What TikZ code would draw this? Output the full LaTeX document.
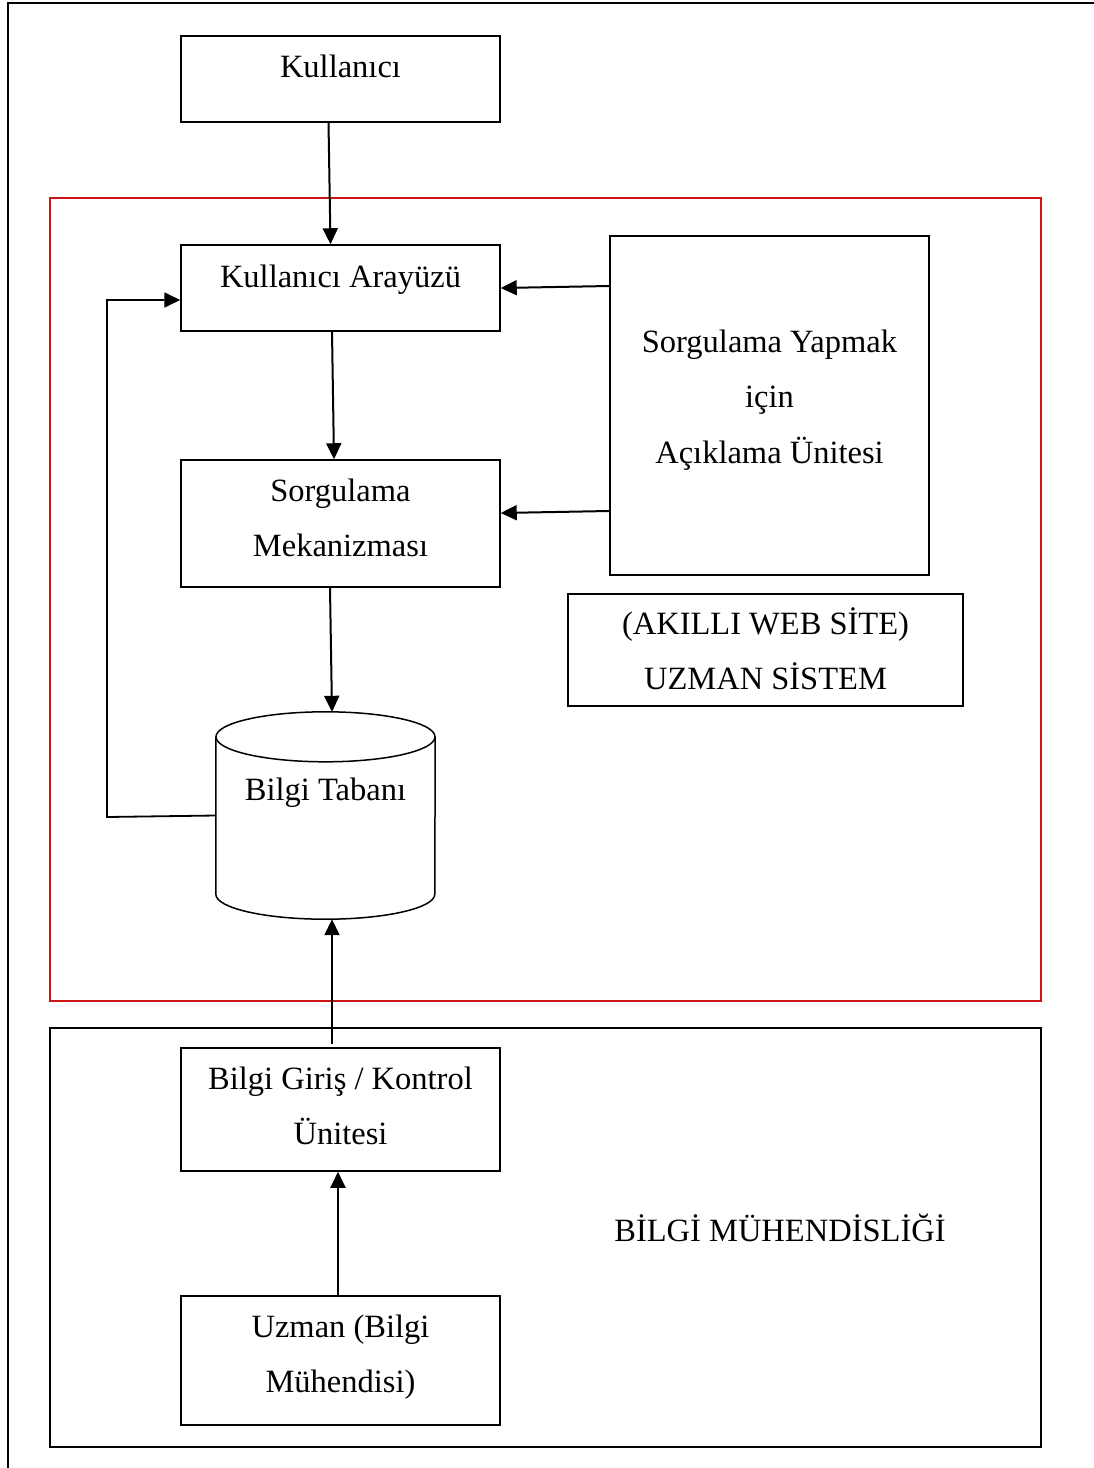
\documentclass[tikz,border=0pt]{standalone}
\usepackage{fontspec}
\setmainfont{Liberation Serif}
\usetikzlibrary{arrows.meta,calc}
\definecolor{framered}{RGB}{204,20,20}
\begin{document}
\begin{tikzpicture}[x=1pt,y=-1pt,
  box/.style={draw=black,line width=1.5pt,inner sep=0pt,minimum width=#1},
  box/.default={319pt},
  lbl/.style={anchor=base,inner sep=0pt,font=\fontsize{32.5}{36}\selectfont},
  arr/.style={line width=2pt,-{Triangle[length=16pt,width=15pt]}},
  ln/.style={line width=1.6pt}]
\useasboundingbox (0,0) rectangle (1094,1468);
% outer frame
\draw[line width=1.8pt] (8,1468) -- (8,3) -- (1094,3);
% group frames
\node[draw=framered,line width=1.4pt,minimum width=991pt,minimum height=803pt,inner sep=0pt] (red) at (545.5,599.5) {};
\node[draw=black,line width=1.6pt,minimum width=991pt,minimum height=419pt,inner sep=0pt] (bm) at (545.5,1237.5) {};
% boxes
\node[box,minimum height=86pt] (kul) at (340.5,79) {};
\node[box,minimum height=86pt] (ara) at (340.5,288) {};
\node[box,minimum height=339pt] (soy) at (769.5,405.5) {};
\node[box,minimum height=127pt] (mek) at (340.5,523.5) {};
\node[box=395pt,minimum height=112pt] (aki) at (765.5,650) {};
\node[inner sep=0pt,minimum width=219pt,minimum height=207pt] (kb) at (325.5,815.5) {};
\node[box,minimum height=123pt] (gir) at (340.5,1109.5) {};
\node[box,minimum height=129pt] (uzm) at (340.5,1360.5) {};
% cylinder
\draw[line width=1.5pt] ([yshift=-25pt]kb.north west) -- ([yshift=25pt]kb.south west)
  arc[start angle=180,end angle=360,x radius=109.5pt,y radius=25pt] -- ([yshift=-25pt]kb.north east);
\draw[line width=1.5pt] ([yshift=-25pt]kb.north) ellipse [x radius=109.5pt,y radius=25pt];
% texts
\node[lbl] (t1) at (340.5,77) {Kullanıcı};
\node[lbl] (t2) at (340.5,287) {Kullanıcı Arayüzü};
\node[lbl] (t3) at (769.5,352) {Sorgulama Yapmak};
\node[lbl] (t4) at (769.5,407) {için};
\node[lbl] (t5) at (769.5,463) {Açıklama Ünitesi};
\node[lbl] (t6) at (340.5,501) {Sorgulama};
\node[lbl] (t7) at (340.5,556) {Mekanizması};
\node[lbl] (t8) at (765.5,634) {(AKILLI WEB SİTE)};
\node[lbl] (t9) at (765.5,689) {UZMAN SİSTEM};
\node[lbl] (t10) at (325.5,800) {Bilgi Tabanı};
\node[lbl] (t11) at (340.5,1089) {Bilgi Giriş / Kontrol};
\node[lbl] (t12) at (340.5,1144) {Ünitesi};
\node[lbl] (t13) at (780,1241) {BİLGİ MÜHENDİSLİĞİ};
\node[lbl] (t14) at (340.5,1337) {Uzman (Bilgi};
\node[lbl] (t15) at (340.5,1392) {Mühendisi)};
% connectors
\draw[arr] ([xshift=-12pt]kul.south) -- ([xshift=-10pt]ara.north);
\draw[arr] ([xshift=-8.5pt]ara.south) -- ([xshift=-6.5pt]mek.north);
\draw[arr] ([xshift=-10.5pt]mek.south) -- ([xshift=6.5pt]kb.north);
\draw[arr] ([yshift=2pt]soy.west |- ara.east) -- (ara.east);
\draw[arr] ([yshift=12.5pt]soy.west |- mek.east) -- ([yshift=10.5pt]mek.east);
\coordinate (fb) at (107,817);
\draw[arr,line width=1.8pt] (kb.west) -- (fb) |- ([yshift=-12pt]ara.west);
\draw[arr] ([xshift=-8.5pt,yshift=3pt]gir.north) -- ([xshift=6.5pt]kb.south);
\draw[arr] ([xshift=-2.5pt]uzm.north) -- ([xshift=-2.5pt]gir.south);
\end{tikzpicture}
\end{document}
